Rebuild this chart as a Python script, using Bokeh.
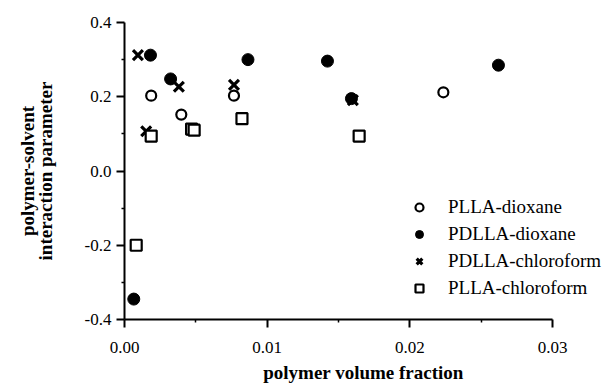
from bokeh.plotting import figure
from bokeh.models import FixedTicker, Range1d, Legend, LegendItem, CustomJSTickFormatter
from bokeh.embed import file_html
from bokeh.resources import INLINE

# ---- data ----
plla_dioxane_x = [0.00187, 0.00398, 0.00767, 0.02234]
plla_dioxane_y = [0.203, 0.152, 0.203, 0.212]

pdlla_dioxane_x = [0.00065, 0.00182, 0.00323, 0.00865, 0.01422, 0.0159, 0.0262]
pdlla_dioxane_y = [-0.345, 0.312, 0.248, 0.300, 0.296, 0.195, 0.285]

pdlla_chloroform_x = [0.00094, 0.00152, 0.00381, 0.00767, 0.0160]
pdlla_chloroform_y = [0.312, 0.107, 0.227, 0.232, 0.191]

plla_chloroform_x = [0.00082, 0.00187, 0.00470, 0.00488, 0.00823, 0.01644]
plla_chloroform_y = [-0.200, 0.094, 0.113, 0.110, 0.141, 0.094]

x_ticks = [0.0, 0.01, 0.02, 0.03]
x_tick_labels = ["0.00", "0.01", "0.02", "0.03"]
x_minor = [0.005, 0.015, 0.025]
y_ticks = [-0.4, -0.2, 0.0, 0.2, 0.4]
y_tick_labels = ["-0.4", "-0.2", "0.0", "0.2", "0.4"]
y_minor = [-0.3, -0.1, 0.1, 0.3]

SERIF = "Liberation Serif"
SERIF_Q = "'Liberation Serif'"
TICK_FONT = "'Liberation Serif', serif"

p = figure(width=607, height=385, output_backend="svg", toolbar_location=None,
           x_range=Range1d(0, 0.03349), y_range=Range1d(-0.4, 0.4),
           min_border_left=124, min_border_right=5, min_border_top=22,
           min_border_bottom=66)
p.outline_line_color = None
p.xgrid.visible = False
p.ygrid.visible = False
p.background_fill_color = "white"
p.border_fill_color = "white"

fmt_code = """
let best = -1;
for (let i = 0; i < tvals.length; i++) {
  if (Math.abs(tvals[i] - tick) < 1e-9) { best = i; }
}
return best >= 0 ? tlabels[best] : "";
"""

for ax, tv, tl, minor in ((p.xaxis[0], x_ticks, x_tick_labels, x_minor),
                          (p.yaxis[0], y_ticks, y_tick_labels, y_minor)):
    ax.ticker = FixedTicker(ticks=tv, minor_ticks=minor)
    ax.formatter = CustomJSTickFormatter(args=dict(tvals=tv, tlabels=tl), code=fmt_code)
    ax.axis_line_color = "black"
    ax.axis_line_width = 2
    ax.major_tick_line_color = "black"
    ax.major_tick_line_width = 2
    ax.minor_tick_line_color = "black"
    ax.minor_tick_line_width = 1.5
    ax.major_tick_in = 0
    ax.major_tick_out = 8
    ax.minor_tick_in = 0
    ax.minor_tick_out = 3
    ax.major_label_text_font = TICK_FONT
    ax.major_label_text_font_style = "normal"
    ax.major_label_text_font_size = "17px"
    ax.major_label_text_color = "black"
    ax.axis_label_text_font = SERIF
    ax.axis_label_text_font_style = "bold"
    ax.axis_label_text_font_size = "19px"
    ax.axis_label_text_color = "black"

p.xaxis[0].bounds = (0, 0.03)
p.xaxis[0].axis_label = "polymer volume fraction"
p.xaxis[0].major_label_standoff = 14
p.xaxis[0].axis_label_standoff = 6
p.yaxis[0].axis_label = "polymer-solvent\ninteraction parameter"
p.yaxis[0].axis_label_text_line_height = 0.85
p.yaxis[0].major_label_standoff = 5
p.yaxis[0].axis_label_standoff = 26

r1 = p.scatter(plla_dioxane_x, plla_dioxane_y, marker="circle", size=10,
               fill_color="white", line_color="black", line_width=2.2)
r2 = p.scatter(pdlla_dioxane_x, pdlla_dioxane_y, marker="circle", size=12,
               fill_color="black", line_color="black", line_width=1)
r3 = p.scatter(pdlla_chloroform_x, pdlla_chloroform_y, marker="x", size=14,
               line_color="black", line_width=3.2)
r4 = p.scatter(plla_chloroform_x, plla_chloroform_y, marker="square", size=11,
               fill_color="white", line_color="black", line_width=2.2)

legend = Legend(items=[LegendItem(label="PLLA-dioxane", renderers=[r1]),
                       LegendItem(label="PDLLA-dioxane", renderers=[r2]),
                       LegendItem(label="PDLLA-chloroform", renderers=[r3]),
                       LegendItem(label="PLLA-chloroform", renderers=[r4])],
                location=(285, 20), border_line_color=None,
                background_fill_alpha=0, padding=0, margin=0,
                spacing=5, glyph_width=20, glyph_height=20, label_height=20,
                label_standoff=19, label_text_font=SERIF_Q,
                label_text_font_size="19px", label_text_color="black")
p.add_layout(legend)

open("out.html", "w").write(file_html(p, INLINE))
